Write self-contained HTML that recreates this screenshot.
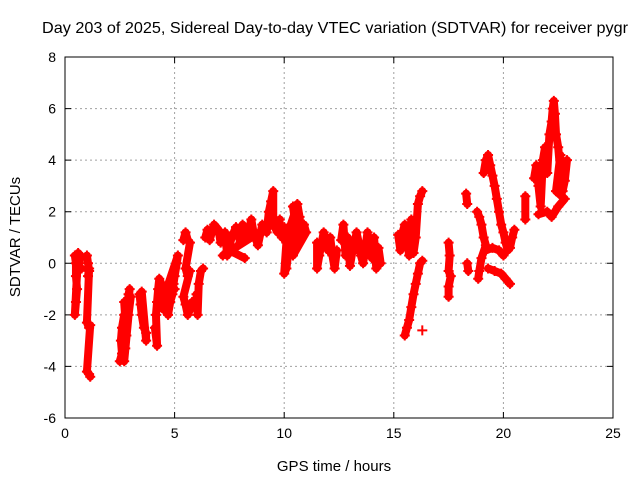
<!DOCTYPE html>
<html><head><meta charset="utf-8"><style>
body{margin:0;background:#fff;width:640px;height:480px;overflow:hidden}
svg{font-family:"Liberation Sans",sans-serif;font-size:14px}
</style></head><body>
<svg id="chart" width="640" height="480" viewBox="0 0 640 480" xmlns="http://www.w3.org/2000/svg">
<text x="42" y="33" font-size="16" textLength="586" lengthAdjust="spacingAndGlyphs">Day 203 of 2025, Sidereal Day-to-day VTEC variation (SDTVAR) for receiver pygr</text>
<text transform="translate(20,237) rotate(-90)" text-anchor="middle" font-size="15">SDTVAR / TECUs</text>
<text x="334" y="471" text-anchor="middle" font-size="15">GPS time / hours</text>
<g id="grid"></g>
<g id="ticks"></g>
<g id="marks"></g>
<rect x="65" y="57" width="548" height="361" fill="none" stroke="#000" stroke-width="1"/>
</svg>
<script>
const xTicks = [0,5,10,15,20,25];
const yTicks = [-6,-4,-2,0,2,4,6,8];
const hours = [
 [0.45,0.5,0.5,0.55,0.5,0.45,0.6,0.7,0.6,0.75],
 [1.0,1.05,1.1,1.05,1.1,1.0,1.1,1.15,1.0,1.1,1.15],
 [2.5,2.6,2.55,2.6,2.7,2.75,2.8,2.7,2.85,2.9,2.95,2.6,2.7,2.9,3.0],
 [3.4,3.45,3.5,3.6,3.7,3.7,3.5],
 [4.1,4.2,4.15,4.2,4.25,4.3,4.4,4.5,4.5,4.6,4.7,4.8,4.9,4.95,5.0,5.1,5.15,4.4,4.6,4.8,5.0],
 [5.4,5.5,5.6,5.7,5.5,5.6,5.7,5.4,5.5,5.6,5.7,5.8],
 [6.0,6.05,6.1,6.2,6.3],
 [6.4,6.5,6.6,6.8,7.0,7.1,7.3,7.4,7.6,7.8,8.0,8.1,8.3,8.5,8.6,8.8,9.0,9.2,9.3,9.4,9.5,9.5,9.7,9.8,7.2,7.5,8.2],
 [9.9,10.0,10.1,10.0,10.1,10.2,10.3,10.5,10.6,10.7,10.8,10.9,11.0,10.4,10.6,10.4],
 [11.5,11.5,11.6,11.8,11.9,12.0,12.1,12.2,12.3,12.4],
 [12.6,12.7,12.8,12.9,13.0,13.1,13.2,13.3,13.4,13.5,13.6,13.7,13.8,13.9,14.0,14.1,14.2,14.3,14.4],
 [15.2,15.3,15.4,15.5,15.6,15.7,15.8,15.9,16.0,16.1,16.2,16.3],
 [15.5,15.6,15.7,15.8,15.9,16.0,16.1,16.2,16.3],
 [16.3],
 [17.5,17.55,17.5,17.6,17.5,17.5],
 [18.3,18.35],
 [18.35,18.4],
 [18.8,18.9,19.0,19.1,19.2,19.0,18.9,18.85],
 [19.2,19.5,19.8,20.0],
 [19.3,19.6,19.9,20.1,20.3],
 [19.1,19.2,19.3,19.4,19.5,19.6,19.7,19.8,19.9,20.0,20.1,20.2,20.3,20.4,20.5],
 [21.0,21.0],
 [21.4,21.5,21.6,21.7,21.8,21.9,22.0,22.1,22.2,22.25,22.3,22.35,22.4,22.5,22.6,22.7,22.8,22.9],
 [21.6,22.0,22.2,22.5,22.8,22.4,22.6]
];
const values = [
 [0.3,0,-0.5,-1,-1.5,-2,0.4,0.3,-0.3,-0.2],
 [0.3,0,-0.3,-0.5,-0.2,-2.3,-2.5,-2.4,-4.2,-4.3,-4.4],
 [-3.8,-3.5,-3.0,-2.5,-2.0,-3.3,-2.8,-1.5,-1.7,-1.2,-1.0,-3.7,-3.8,-2.0,-1.3],
 [-1.2,-1.6,-2.0,-2.5,-2.7,-3.0,-1.1],
 [-2.5,-3.2,-2.0,-1.5,-1.0,-0.6,-0.8,-1.2,-1.8,-1.5,-2.0,-1.5,-1.2,-0.8,-0.5,0,0.3,-1.6,-1.0,-0.9,-1.0],
 [0.9,1.2,0.9,0.8,-0.2,-0.5,-0.3,-1.3,-1.6,-2.0,-1.8,-1.5],
 [-1.2,-2.0,-0.8,-0.3,-0.2],
 [1.0,1.3,0.9,1.5,1.3,0.8,1.2,0.3,1.0,1.4,0.8,1.5,1.0,1.7,1.2,0.7,1.5,1.2,2.0,2.4,2.8,1.5,1.2,1.7,0.3,0.5,0.2],
 [1.0,1.4,0.8,-0.4,-0.2,0.5,1.5,2.0,2.3,1.8,1.0,1.5,1.2,0.3,1.0,2.2],
 [0.8,-0.2,0.3,1.2,0.8,0.5,1.0,0.3,-0.2,0.5],
 [0.9,1.5,0.3,1.0,-0.1,0.4,0.7,1.2,0.8,0.3,0.0,0.6,1.2,0.5,0.2,1.0,-0.2,0.6,0.0],
 [1.1,0.5,1.2,1.5,0.9,0.3,1.7,0.4,1.0,2.3,2.6,2.8],
 [-2.8,-2.5,-2.2,-1.7,-1.2,-0.8,-0.4,0.0,0.1],
 [-2.6],
 [0.8,0.3,-0.3,-0.5,-0.9,-1.3],
 [2.7,2.3],
 [0,-0.3],
 [2.0,1.8,1.5,1.0,0.7,0.2,-0.3,-0.6],
 [0.5,0.6,0.5,0.3],
 [-0.2,-0.3,-0.4,-0.6,-0.8],
 [3.5,4.0,4.2,3.8,3.4,3.0,2.5,2.0,1.5,1.2,0.8,0.5,0.6,1.0,1.3],
 [2.6,1.7],
 [3.3,3.8,3.0,2.2,4.0,4.5,3.5,5.0,5.5,6.0,6.3,5.8,5.0,4.5,3.5,2.8,3.2,4.0],
 [1.9,2.0,1.8,2.2,2.5,2.8,4.2]
];
const X0=65,X1=613,Y0=418,Y1=57;
function xs(h){return X0+(h-0)/(25-0)*(X1-X0);}
function ys(v){return Y0-(v-(-6))/(8-(-6))*(Y0-Y1);}
const NS="http://www.w3.org/2000/svg";
function mk(tag,attrs,parent){const e=document.createElementNS(NS,tag);for(const k in attrs)e.setAttribute(k,attrs[k]);parent.appendChild(e);return e;}
const grid=document.getElementById('grid'),ticks=document.getElementById('ticks'),marks=document.getElementById('marks');
xTicks.forEach(t=>{
 const x=xs(t);
 if(t>0&&t<25){const g=mk('line',{x1:x,x2:x,y1:Y1,y2:Y0,stroke:'#a0a0a0','stroke-dasharray':'2,3'},grid);
 
 }
 const l=mk('text',{x:x,y:Y0+20,'text-anchor':'middle'},ticks);l.textContent=t;
 
 
 const tk=mk('path',{d:`M${x},${Y0}v-6M${x},${Y1}v6`,stroke:'#000'},ticks);
 
 
});
yTicks.forEach(t=>{
 const y=ys(t);
 if(t>-6&&t<8){const g=mk('line',{x1:X0,x2:X1,y1:y,y2:y,stroke:'#a0a0a0','stroke-dasharray':'2,3'},grid);
 
 }
 const l=mk('text',{x:X0-9,y:y+5,'text-anchor':'end'},ticks);l.textContent=t;
 
 
 const tk=mk('path',{d:`M${X0},${y}h6M${X1},${y}h-6`,stroke:'#000'},ticks);
 
 
});
hours.forEach((hs,i)=>{
 const vs=values[i];
 if(hs.length>1){
  const pl=mk('polyline',{points:hs.map((h,j)=>xs(h)+','+ys(vs[j])).join(' '),fill:'none',stroke:'#ff0000','stroke-width':8,'stroke-linejoin':'round','stroke-linecap':'round'},marks);
  
  
 }
 hs.forEach((h,j)=>{
  const x=xs(h),y=ys(vs[j]);
  const p=mk('path',{d:`M${x-5},${y}h10M${x},${y-5}v10`,stroke:'#ff0000','stroke-width':2},marks);
  
  
 });
});
</script>
</body></html>
